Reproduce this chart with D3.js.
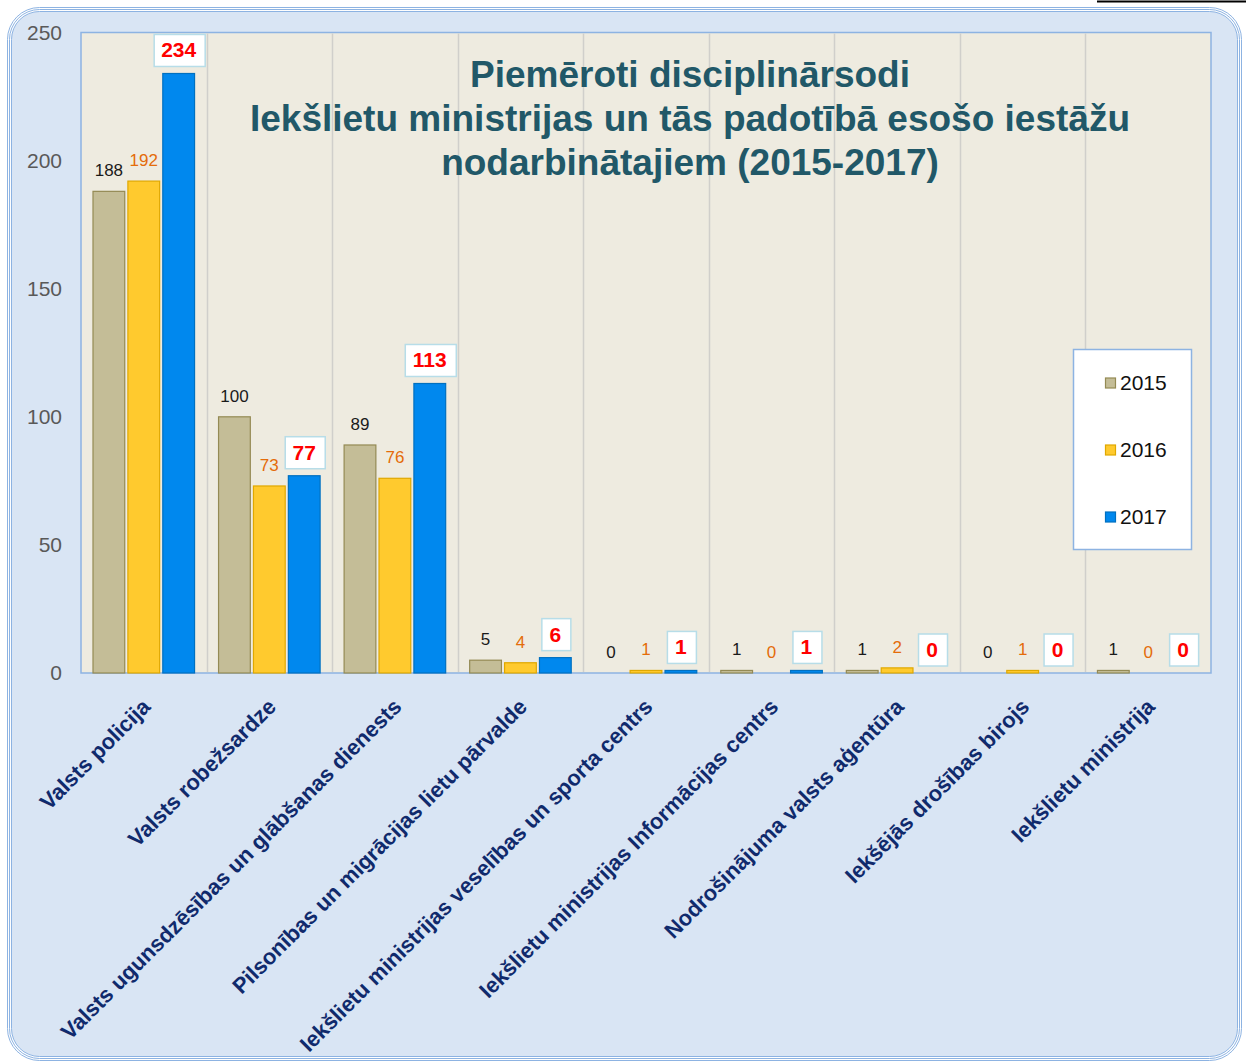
<!DOCTYPE html>
<head>
  <meta charset="utf-8">
  <script src="https://d3js.org/d3.v7.min.js"></script>
  <style>
    body { margin:0; background:#fff; }
    text { font-family: Arial, "Liberation Sans", sans-serif; }
  </style>
</head>
<body>
<div id="chart"></div>
<script>
  // data
  var categories = ["Valsts policija", "Valsts robežsardze", "Valsts ugunsdzēsības un glābšanas dienests",
    "Pilsonības un migrācijas lietu pārvalde", "Iekšlietu ministrijas veselības un sporta centrs",
    "Iekšlietu ministrijas Informācijas centrs", "Nodrošinājuma valsts aģentūra",
    "Iekšējās drošības birojs", "Iekšlietu ministrija"];
  var years = ["2015", "2016", "2017"];
  var values2015 = [188, 100, 89, 5, 0, 1, 1, 0, 1];
  var values2016 = [192, 73, 76, 4, 1, 0, 2, 1, 0];
  var values2017 = [234, 77, 113, 6, 1, 1, 0, 0, 0];
  var yTicks = [0, 50, 100, 150, 200, 250];
  var titleLines = ["Piemēroti disciplinārsodi", "Iekšlietu ministrijas un tās padotībā esošo iestāžu", "nodarbinātajiem (2015-2017)"];

  var series = [values2015, values2016, values2017];
  var fills = ["#c4bd97", "#ffca2e", "#0088ee"];
  var strokes = ["#948a54", "#e0a800", "#0070c0"];

  var W = 1246, H = 1063;

  var svg = d3.select("#chart").append("svg")
    .attr("width", W).attr("height", H);

  // outer frame
  [0, 2, 4].forEach(function(o) {
    svg.append("rect")
      .attr("x", 7.5 + o).attr("y", 7.5 + o)
      .attr("width", 1234 - 2 * o).attr("height", 1053 - 2 * o)
      .attr("rx", 32 - o).attr("ry", 32 - o)
      .attr("fill", o == 4 ? "#d9e5f4" : "none")
      .attr("stroke", "#8db3e2").attr("stroke-width", 1);
  });
  svg.append("line").attr("x1", 1097).attr("x2", 1246).attr("y1", 1.5).attr("y2", 1.5)
    .attr("stroke", "#000").attr("stroke-width", 2);

  var x0 = d3.scaleBand().domain(categories).range([81, 1211]);
  var x1 = d3.scaleBand().domain(years).range([12, x0.bandwidth() - 12]).paddingInner(0.09);
  var y = d3.scaleLinear().domain([0, 250]).range([673, 32.5]);

  // plot area
  svg.append("rect")
    .attr("x", 81).attr("y", 32.5).attr("width", 1130).attr("height", 640.5)
    .attr("fill", "#eeebe0").attr("stroke", "#8db3e2").attr("stroke-width", 1.5);

  svg.append("g").selectAll("line").data(categories.slice(1)).enter()
    .append("line")
    .attr("x1", function(d) { return Math.round(x0(d)) + 0.5; })
    .attr("x2", function(d) { return Math.round(x0(d)) + 0.5; })
    .attr("y1", 33.5).attr("y2", 672)
    .attr("stroke", "#d0cfcb").attr("stroke-width", 1.5);

  // y axis labels
  svg.append("g").selectAll("text").data(yTicks).enter()
    .append("text")
    .attr("x", 62).attr("y", function(d) { return y(d); })
    .attr("dy", "0.35em")
    .attr("text-anchor", "end")
    .attr("font-size", 21).attr("fill", "#595959")
    .text(function(d) { return d; });

  // bars
  series.forEach(function(vals, s) {
    var g = svg.append("g");
    g.selectAll("rect").data(vals).enter()
      .append("rect")
      .attr("x", function(d, i) { return x0(categories[i]) + x1(years[s]); })
      .attr("y", function(d) { return y(d); })
      .attr("width", x1.bandwidth())
      .attr("height", function(d) { return y(0) - y(d); })
      .attr("fill", fills[s])
      .attr("stroke", strokes[s]).attr("stroke-width", 1.2);
  });

  // value labels 2015 / 2016
  [0, 1].forEach(function(s) {
    svg.append("g").selectAll("text").data(series[s]).enter()
      .append("text")
      .attr("x", function(d, i) { return x0(categories[i]) + x1(years[s]) + x1.bandwidth() / 2; })
      .attr("y", function(d) { return y(d) - 15; })
      .attr("text-anchor", "middle")
      .attr("font-size", 17)
      .attr("fill", s == 0 ? "#1a1a1a" : "#e46c0a")
      .text(function(d) { return d; });
  });

  // value labels 2017 boxed
  var lab = svg.append("g").selectAll("g").data(values2017).enter()
    .append("g")
    .attr("transform", function(d, i) {
      return "translate(" + (x0(categories[i]) + x1("2017") + x1.bandwidth() / 2) + "," + (y(d) - 7) + ")";
    });
  lab.append("rect")
    .attr("x", function(d) { return -(String(d).length * 11 + 16) / 2; })
    .attr("y", -32)
    .attr("width", function(d) { return String(d).length * 11 + 18; })
    .attr("height", 32)
    .attr("fill", "#fff").attr("stroke", "#b7dde8").attr("stroke-width", 1.5);
  lab.append("text")
    .attr("y", -9)
    .attr("text-anchor", "middle")
    .attr("font-size", 21).attr("font-weight", "bold")
    .attr("fill", "#ff0000")
    .text(function(d) { return d; });

  // category labels
  svg.append("g").selectAll("text").data(categories).enter()
    .append("text")
    .attr("transform", function(d) {
      return "translate(" + (x0(d) + x0.bandwidth() / 2 + 8) + ",708) rotate(-45)";
    })
    .attr("text-anchor", "end")
    .attr("font-size", 22).attr("font-weight", "bold")
    .attr("fill", "#102a6c")
    .text(function(d) { return d; });

  // title
  svg.append("g").selectAll("text").data(titleLines).enter()
    .append("text")
    .attr("x", 690).attr("y", function(d, i) { return 87 + i * 44; })
    .attr("text-anchor", "middle")
    .attr("font-size", 37).attr("font-weight", "bold")
    .attr("fill", "#215868")
    .text(function(d) { return d; });

  // legend
  var leg = svg.append("g");
  leg.append("rect")
    .attr("x", 1073.5).attr("y", 349.5).attr("width", 118).attr("height", 200)
    .attr("fill", "#fff").attr("stroke", "#8db3e2").attr("stroke-width", 1.5);
  years.forEach(function(yr, i) {
    leg.append("rect")
      .attr("x", 1105.5).attr("y", 378 + i * 67).attr("width", 10).attr("height", 10)
      .attr("fill", fills[i]).attr("stroke", strokes[i]).attr("stroke-width", 1.2);
    leg.append("text")
      .attr("x", 1120).attr("y", 390 + i * 67)
      .attr("font-size", 21).attr("fill", "#111")
      .text(yr);
  });
</script>
</body>
